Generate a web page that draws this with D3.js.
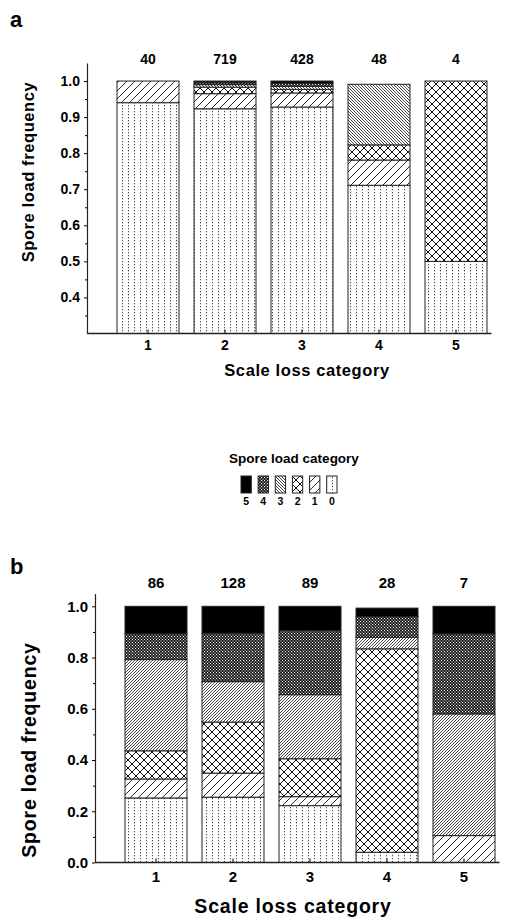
<!DOCTYPE html>
<html>
<head>
<meta charset="utf-8">
<script src="https://cdn.jsdelivr.net/npm/d3@7"></script>
<style>
  body { margin: 0; background: #fff; }
  svg { display: block; font-family: "Liberation Sans", Arial, sans-serif; }
</style>
</head>
<body>
<div id="wrapper"></div>
<script>
// scale loss categories on the x axis, spore load categories stacked
const scaleLoss = ["1", "2", "3", "4", "5"];
const sporeLoad = ["0", "1", "2", "3", "4", "5"];

// sample sizes printed above the bars
const countsA = [40, 719, 428, 48, 4];
const countsB = [86, 128, 89, 28, 7];

// frequency of spore load 0..5 in each scale loss category
const freqA1 = [0.94, 0.06, 0, 0, 0, 0];
const freqA2 = [0.923, 0.042, 0.018, 0.007, 0.007, 0.003];
const freqA3 = [0.928, 0.039, 0.010, 0.008, 0.009, 0.006];
const freqA4 = [0.711, 0.070, 0.042, 0.168, 0, 0];
const freqA5 = [0.5, 0, 0.5, 0, 0, 0];

const freqB1 = [0.252, 0.074, 0.110, 0.356, 0.101, 0.107];
const freqB2 = [0.255, 0.094, 0.199, 0.158, 0.189, 0.105];
const freqB3 = [0.222, 0.035, 0.148, 0.250, 0.251, 0.094];
const freqB4 = [0.040, 0, 0.794, 0.045, 0.081, 0.033];
const freqB5 = [0, 0.105, 0, 0.475, 0.313, 0.107];

const ticksA = [0.4, 0.5, 0.6, 0.7, 0.8, 0.9, 1.0];
const ticksB = [0.0, 0.2, 0.4, 0.6, 0.8, 1.0];

const svg = d3.select("#wrapper").append("svg")
  .attr("width", 525)
  .attr("height", 917);

const defs = svg.append("defs");

// hatch patterns, one per spore load category (dir of cat 3 differs per panel)
function makePatterns(prefix, denseDir) {
  const p0 = defs.append("pattern").attr("id", prefix + "p0")
    .attr("patternUnits", "userSpaceOnUse").attr("width", 6).attr("height", 3);
  p0.append("rect").attr("width", 6).attr("height", 3).attr("fill", "#fff");
  p0.append("rect").attr("x", 2).attr("y", 0).attr("width", 0.9).attr("height", 1.3).attr("fill", "#333");

  const p1 = defs.append("pattern").attr("id", prefix + "p1")
    .attr("patternUnits", "userSpaceOnUse").attr("width", 8).attr("height", 8);
  p1.append("rect").attr("width", 8).attr("height", 8).attr("fill", "#fff");
  p1.append("path").attr("d", "M-2,2 L2,-2 M0,8 L8,0 M6,10 L10,6")
    .attr("stroke", "#111").attr("stroke-width", 0.9);

  const p2 = defs.append("pattern").attr("id", prefix + "p2")
    .attr("patternUnits", "userSpaceOnUse").attr("width", 8).attr("height", 8);
  p2.append("rect").attr("width", 8).attr("height", 8).attr("fill", "#fff");
  p2.append("path").attr("d", "M0,0 L8,8 M0,8 L8,0 M-1,7 L1,9 M7,-1 L9,1 M-1,1 L1,-1 M7,9 L9,7")
    .attr("stroke", "#111").attr("stroke-width", 1);

  const p3 = defs.append("pattern").attr("id", prefix + "p3")
    .attr("patternUnits", "userSpaceOnUse").attr("width", 3).attr("height", 3);
  p3.append("rect").attr("width", 3).attr("height", 3).attr("fill", "#fff");
  p3.append("path")
    .attr("d", denseDir === "back" ? "M0,0 L3,3 M-1,2 L1,4 M2,-1 L4,1" : "M0,3 L3,0 M-1,1 L1,-1 M2,4 L4,2")
    .attr("stroke", "#222").attr("stroke-width", 0.85);

  const p4 = defs.append("pattern").attr("id", prefix + "p4")
    .attr("patternUnits", "userSpaceOnUse").attr("width", 3).attr("height", 3);
  p4.append("rect").attr("width", 3).attr("height", 3).attr("fill", "#111");
  p4.append("rect").attr("width", 1.1).attr("height", 1.1).attr("fill", "#fff");
  p4.append("rect").attr("x", 1.5).attr("y", 1.5).attr("width", 1.1).attr("height", 1.1).attr("fill", "#fff");
}
makePatterns("a", "back");
makePatterns("b", "fwd");

function fillFor(prefix, key) {
  return key === "5" ? "#000" : `url(#${prefix}p${key})`;
}

function panel(opt) {
  const rows = opt.freqs.map((f, i) => {
    const row = { cat: scaleLoss[i] };
    sporeLoad.forEach((k, j) => row[k] = f[j]);
    return row;
  });
  const series = d3.stack().keys(sporeLoad)(rows);

  const x = d3.scaleBand().domain(scaleLoss)
    .range(opt.xRange).paddingInner(0.195).paddingOuter(0.0975);
  const y = d3.scaleLinear().domain(opt.yDomain).range(opt.yRange).clamp(true);

  const g = svg.append("g");

  g.selectAll("g.layer")
    .data(series)
    .join("g")
    .attr("class", "layer")
    .attr("fill", d => fillFor(opt.prefix, d.key))
    .selectAll("rect")
    .data(d => d.filter(s => s[1] - s[0] > 0))
    .join("rect")
    .attr("x", d => x(d.data.cat))
    .attr("y", d => y(d[1]))
    .attr("width", x.bandwidth())
    .attr("height", d => y(d[0]) - y(d[1]))
    .attr("stroke", "#222")
    .attr("stroke-width", 1);

  // y axis, major and minor ticks
  const yAxis = g.append("g")
    .attr("transform", `translate(${opt.axisX},0)`)
    .call(d3.axisLeft(y).tickValues(opt.ticks).tickFormat(d3.format(".1f"))
      .tickSize(3).tickSizeOuter(0).tickPadding(4));
  yAxis.selectAll("text").attr("font-size", opt.tickSize).attr("font-weight", "bold")
    .attr("font-family", "Liberation Sans, Arial, sans-serif").attr("fill", "#000");
  yAxis.select(".domain").attr("stroke", "#222").attr("stroke-width", 1.2);

  g.append("g")
    .attr("transform", `translate(${opt.axisX},0)`)
    .call(d3.axisLeft(y).tickValues(opt.minor).tickFormat("").tickSize(2).tickSizeOuter(0))
    .call(a => a.select(".domain").remove());

  // baseline
  g.append("line")
    .attr("x1", opt.axisX).attr("x2", opt.xRange[1] - 3)
    .attr("y1", y.range()[0]).attr("y2", y.range()[0])
    .attr("stroke", "#222").attr("stroke-width", 1.3);

  const xAxis = g.append("g")
    .attr("transform", `translate(0,${y.range()[0]})`)
    .call(d3.axisBottom(x).tickSize(-4).tickSizeOuter(0).tickPadding(opt.xPad));
  xAxis.select(".domain").remove();
  xAxis.selectAll("text").attr("font-size", opt.tickSize).attr("font-weight", "bold")
    .attr("font-family", "Liberation Sans, Arial, sans-serif").attr("fill", "#000");

  // sample sizes
  g.selectAll("text.n")
    .data(opt.counts)
    .join("text")
    .attr("class", "n")
    .attr("x", (d, i) => x(scaleLoss[i]) + x.bandwidth() / 2)
    .attr("y", opt.countY)
    .attr("text-anchor", "middle")
    .attr("font-size", opt.tickSize)
    .attr("font-weight", "bold")
    .text(d => d);

  g.append("text")
    .attr("x", opt.titleX)
    .attr("y", y.range()[0] + opt.titleDy)
    .attr("text-anchor", "middle")
    .attr("font-size", opt.titleSize)
    .attr("font-weight", "bold")
    .attr("letter-spacing", opt.spacing)
    .text("Scale loss category");

  g.append("text")
    .attr("transform", `translate(${opt.ylabX},${opt.ylabY}) rotate(-90)`)
    .attr("text-anchor", "middle")
    .attr("font-size", opt.titleSize)
    .attr("font-weight", "bold")
    .attr("letter-spacing", opt.spacing)
    .text("Spore load frequency");

  g.append("text")
    .attr("x", opt.letterX).attr("y", opt.letterY)
    .attr("font-size", 22).attr("font-weight", "bold")
    .text(opt.letter);
}

panel({
  prefix: "a", letter: "a", letterX: 10, letterY: 27,
  freqs: [freqA1, freqA2, freqA3, freqA4, freqA5],
  counts: countsA, countY: 64,
  xRange: [109.5, 494.5], yDomain: [0.3, 1.05], yRange: [333.5, 63],
  ticks: ticksA, minor: d3.range(0.35, 1.05, 0.1),
  axisX: 87, xPad: 7, tickSize: 14, titleSize: 16.5, spacing: 0.6,
  titleX: 307, titleDy: 42, ylabX: 34, ylabY: 172
});

panel({
  prefix: "b", letter: "b", letterX: 10, letterY: 574,
  freqs: [freqB1, freqB2, freqB3, freqB4, freqB5],
  counts: countsB, countY: 588,
  xRange: [117.5, 502.5], yDomain: [0, 1.05], yRange: [862.5, 593.5],
  ticks: ticksB, minor: d3.range(0.1, 1.05, 0.2),
  axisX: 95, xPad: 9, tickSize: 15, titleSize: 19.5, spacing: 0.8,
  titleX: 293, titleDy: 50, ylabX: 36, ylabY: 750
});

// legend
const legend = svg.append("g");
legend.append("text")
  .attr("x", 294).attr("y", 463)
  .attr("text-anchor", "middle")
  .attr("font-size", 13.5)
  .attr("font-weight", "bold")
  .text("Spore load category");

const legendKeys = sporeLoad.slice().reverse();
const lx = d3.scaleBand().domain(legendKeys).range([241, 337]).paddingInner(0.4);

legend.selectAll("rect")
  .data(legendKeys)
  .join("rect")
  .attr("x", d => lx(d))
  .attr("y", 476)
  .attr("width", lx.bandwidth())
  .attr("height", 17)
  .attr("fill", d => fillFor("a", d))
  .attr("stroke", "#222")
  .attr("stroke-width", 1);

legend.selectAll("text.k")
  .data(legendKeys)
  .join("text")
  .attr("class", "k")
  .attr("x", d => lx(d) + lx.bandwidth() / 2)
  .attr("y", 505)
  .attr("text-anchor", "middle")
  .attr("font-size", 10.5)
  .attr("font-weight", "bold")
  .text(d => d);
</script>
</body>
</html>
